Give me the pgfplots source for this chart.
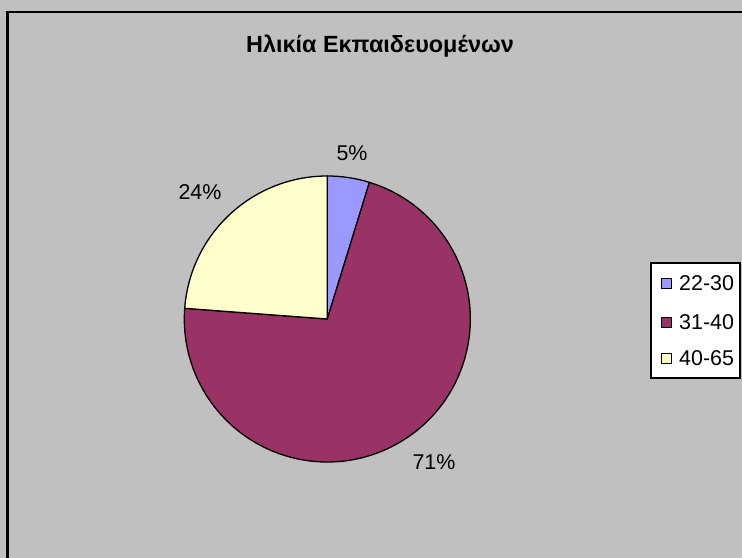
\documentclass[border=0pt]{standalone}
\usepackage{pgfplots}
\pgfplotsset{compat=1.18}
\usepackage{fontspec}
\setmainfont{Liberation Sans}
\definecolor{bg}{HTML}{C0C0C0}
\definecolor{cA}{HTML}{9999FF}
\definecolor{cB}{HTML}{993366}
\definecolor{cC}{HTML}{FFFFCC}
% data (counts per age group)
\def\vA{1}   % 22-30
\def\vB{15}  % 31-40
\def\vC{5}   % 40-65
\pgfmathsetmacro\tot{\vA+\vB+\vC}
\pgfmathsetmacro\aA{90}
\pgfmathsetmacro\aB{\aA-360*\vA/\tot}
\pgfmathsetmacro\aC{\aB-360*\vB/\tot}
\pgfmathsetmacro\aD{\aC-360*\vC/\tot}
\def\cx{327.3}
\def\cy{239}
\def\R{143bp}
\begin{document}
\begin{tikzpicture}
\begin{axis}[hide axis, scale only axis, width=742bp, height=558bp,
  xmin=0, xmax=742, ymin=0, ymax=558, clip=false]
\fill[bg] (axis cs:-5,-5) rectangle (axis cs:750,565);
\draw[line width=2.6bp] (axis cs:7.5,-30) -- (axis cs:7.5,546) -- (axis cs:780,546);
% title
\node[anchor=base, inner sep=0pt, font=\fontsize{23.5}{28}\selectfont\bfseries] at (axis cs:380,505) {Ηλικία Εκπαιδευομένων};
% pie slices
\filldraw[fill=cA, draw=black, line width=1.3bp, line join=round] (axis cs:\cx,\cy) -- ++(\aA:\R) arc[start angle=\aA, end angle=\aB, radius=\R] -- cycle;
\filldraw[fill=cB, draw=black, line width=1.3bp, line join=round] (axis cs:\cx,\cy) -- ++(\aB:\R) arc[start angle=\aB, end angle=\aC, radius=\R] -- cycle;
\filldraw[fill=cC, draw=black, line width=1.3bp, line join=round] (axis cs:\cx,\cy) -- ++(\aC:\R) arc[start angle=\aC, end angle=\aD, radius=\R] -- cycle;
% labels
\node[anchor=base, inner sep=0pt, font=\fontsize{21.5}{25}\selectfont] at (axis cs:352,397) {5\%};
\node[anchor=base, inner sep=0pt, font=\fontsize{21.5}{25}\selectfont] at (axis cs:200,358) {24\%};
\node[anchor=base, inner sep=0pt, font=\fontsize{21.5}{25}\selectfont] at (axis cs:434,88) {71\%};
% legend
\filldraw[fill=white, draw=black, line width=1.1bp] (axis cs:651,295) rectangle (axis cs:740,180);
\filldraw[fill=cA, draw=black, line width=0.8bp] (axis cs:661,280) rectangle (axis cs:671,270);
\filldraw[fill=cB, draw=black, line width=0.8bp] (axis cs:661,241) rectangle (axis cs:671,231);
\filldraw[fill=cC, draw=black, line width=0.8bp] (axis cs:661,205) rectangle (axis cs:671,195);
\node[anchor=west, inner sep=0pt, font=\fontsize{21.5}{25}\selectfont] at (axis cs:679,275) {22-30};
\node[anchor=west, inner sep=0pt, font=\fontsize{21.5}{25}\selectfont] at (axis cs:679,236) {31-40};
\node[anchor=west, inner sep=0pt, font=\fontsize{21.5}{25}\selectfont] at (axis cs:679,200) {40-65};
\end{axis}
\pgfresetboundingbox
\path (0,0) rectangle (742bp,558bp);
\end{tikzpicture}
\end{document}
